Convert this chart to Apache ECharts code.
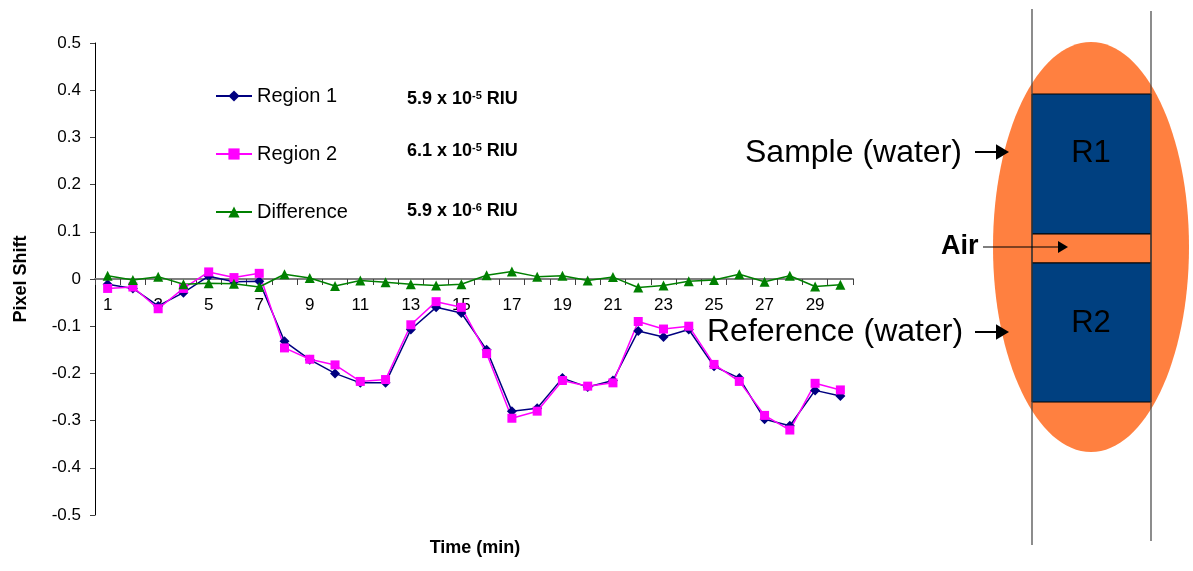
<html lang="en">

<head>
    <meta charset="UTF-8">
    <title>Pixel Shift</title>
    <script src="https://cdn.jsdelivr.net/npm/echarts@6.0.0/dist/echarts.min.js"></script>
    <style>
        html, body { margin: 0; padding: 0; background: #fff; }
    </style>
</head>

<body>
    <div id="main" style="width: 1193px;height:571px;"></div>
    <script type="text/javascript">
        // time in minutes
        var minutes = [1, 2, 3, 4, 5, 6, 7, 8, 9, 10, 11, 12, 13, 14, 15,
            16, 17, 18, 19, 20, 21, 22, 23, 24, 25, 26, 27, 28, 29, 30];
        var region1 = [-0.011, -0.02, -0.057, -0.029, 0.006, -0.006, -0.005, -0.132, -0.171, -0.2,
            -0.22, -0.22, -0.107, -0.06, -0.072, -0.15, -0.28, -0.274, -0.21, -0.229,
            -0.215, -0.11, -0.123, -0.107, -0.185, -0.21, -0.297, -0.311, -0.236, -0.248];
        var region2 = [-0.02, -0.017, -0.063, -0.02, 0.015, 0.003, 0.012, -0.146, -0.17, -0.182,
            -0.217, -0.213, -0.097, -0.048, -0.06, -0.158, -0.295, -0.28, -0.215, -0.227,
            -0.22, -0.09, -0.106, -0.1, -0.181, -0.217, -0.289, -0.32, -0.221, -0.235];
        var difference = [0.007, -0.002, 0.005, -0.011, -0.009, -0.01, -0.017, 0.01, 0.002, -0.015,
            -0.003, -0.007, -0.011, -0.014, -0.011, 0.008, 0.016, 0.005, 0.007, -0.003,
            0.004, -0.018, -0.014, -0.005, -0.002, 0.01, -0.006, 0.007, -0.016, -0.012];
        var seriesNames = ['Region 1', 'Region 2', 'Difference'];
        // resolution next to each legend entry: [mantissa, exponent]
        var riuLabels = [['5.9', '-5'], ['6.1', '-5'], ['5.9', '-6']];

        var font = "'Liberation Sans', Arial, sans-serif";
        var gridTop = 43, gridBottom = 56, chartHeight = 571;

        function riuText(lab, x, y) {
            return {
                type: 'text',
                left: x,
                top: y,
                style: {
                    text: lab[0] + ' x 10{sup|' + lab[1] + '} RIU',
                    font: 'bold 18px ' + font,
                    fill: '#000',
                    rich: {
                        sup: { fontSize: 11, fontWeight: 'bold', fontFamily: font, verticalAlign: 'top', padding: [0, 0, 7, 0] }
                    }
                }
            };
        }

        function arrow(x1, x2, y, w, head) {
            return [{
                type: 'line',
                shape: { x1: x1, y1: y, x2: x2 - head, y2: y },
                style: { stroke: '#000', lineWidth: w }
            }, {
                type: 'polygon',
                shape: { points: [[x2 - head, y - head * 0.6], [x2, y], [x2 - head, y + head * 0.6]] },
                style: { fill: '#000' }
            }];
        }

        var chart = echarts.init(document.getElementById('main'));
        var graphics = [
            // sample cell diagram
            { type: 'ellipse', shape: { cx: 1091, cy: 247, rx: 98, ry: 205 }, style: { fill: '#FF8040' } },
            { type: 'rect', shape: { x: 1032, y: 94, width: 119, height: 140 }, style: { fill: '#004080', stroke: '#000', lineWidth: 1 } },
            { type: 'rect', shape: { x: 1032, y: 234, width: 119, height: 29 }, style: { fill: '#FF8040', stroke: '#000', lineWidth: 1 } },
            { type: 'rect', shape: { x: 1032, y: 263, width: 119, height: 139 }, style: { fill: '#004080', stroke: '#000', lineWidth: 1 } },
            { type: 'line', shape: { x1: 1032, y1: 9, x2: 1032, y2: 545 }, style: { stroke: '#404040', lineWidth: 1.2 } },
            { type: 'line', shape: { x1: 1151, y1: 11, x2: 1151, y2: 541 }, style: { stroke: '#404040', lineWidth: 1.2 } },
            { type: 'text', x: 1091, y: 153, style: { text: 'R1', font: '31px ' + font, fill: '#000', align: 'center', verticalAlign: 'middle' } },
            { type: 'text', x: 1091, y: 323, style: { text: 'R2', font: '31px ' + font, fill: '#000', align: 'center', verticalAlign: 'middle' } },
            { type: 'text', x: 745, y: 153, style: { text: 'Sample (water)', font: '32px ' + font, fill: '#000', verticalAlign: 'middle' } },
            { type: 'text', x: 707, y: 332, style: { text: 'Reference (water)', font: '32px ' + font, fill: '#000', verticalAlign: 'middle' } },
            { type: 'text', x: 941, y: 247, style: { text: 'Air', font: 'bold 27px ' + font, fill: '#000', verticalAlign: 'middle' } },
            // axis title below the plot
            { type: 'text', x: 475, y: 548, style: { text: 'Time (min)', font: 'bold 18px ' + font, fill: '#000', align: 'center', verticalAlign: 'middle' } },
            riuText(riuLabels[0], 407, 90),
            riuText(riuLabels[1], 407, 142),
            riuText(riuLabels[2], 407, 202)
        ];
        graphics = graphics.concat(arrow(975, 1009, 152, 2, 13), arrow(975, 1009, 332, 2, 13), arrow(983, 1068, 247, 1.2, 10));

        option = {
            animation: false,
            grid: { left: 95, right: 340, top: gridTop, bottom: gridBottom },
            legend: {
                data: seriesNames,
                orient: 'vertical',
                left: 210,
                top: 81,
                itemWidth: 36,
                itemHeight: 14,
                itemGap: 38,
                textStyle: { fontSize: 20, fontFamily: font, color: '#000' }
            },
            xAxis: {
                type: 'category',
                data: minutes,
                boundaryGap: true,
                position: 'bottom',
                // category axis sits at y = 0, in the middle of the value range
                offset: -(chartHeight - gridTop - gridBottom) / 2,
                axisLine: { onZero: false, lineStyle: { color: '#808080', width: 2 } },
                axisTick: { show: true, interval: 0, length: 6, lineStyle: { color: '#404040' } },
                axisLabel: { interval: 1, color: '#000', fontSize: 17, fontFamily: font, margin: 18 },
                splitLine: { show: false }
            },
            yAxis: {
                type: 'value',
                min: -0.5,
                max: 0.5,
                interval: 0.1,
                name: 'Pixel Shift',
                nameLocation: 'middle',
                nameGap: 65,
                nameTextStyle: { color: '#000', fontSize: 18, fontWeight: 'bold', fontFamily: font },
                axisLine: { show: true, lineStyle: { color: '#000', width: 1 } },
                axisTick: { show: true, length: 5, lineStyle: { color: '#404040' } },
                axisLabel: {
                    color: '#000', fontSize: 17, fontFamily: font, margin: 14,
                    formatter: function (v) { return Math.round(v * 10) / 10 + ''; }
                },
                splitLine: { show: false }
            },
            series: [{
                name: seriesNames[0],
                type: 'line',
                data: region1,
                symbol: 'diamond',
                symbolSize: 10,
                itemStyle: { color: '#000080' },
                lineStyle: { color: '#000080', width: 1.5 }
            }, {
                name: seriesNames[1],
                type: 'line',
                data: region2,
                symbol: 'rect',
                symbolSize: 9,
                itemStyle: { color: '#FF00FF' },
                lineStyle: { color: '#FF00FF', width: 1.5 }
            }, {
                name: seriesNames[2],
                type: 'line',
                data: difference,
                symbol: 'triangle',
                symbolSize: 10,
                itemStyle: { color: '#008000' },
                lineStyle: { color: '#008000', width: 1.5 }
            }],
            graphic: graphics
        };

        chart.setOption(option);
    </script>
</body>

</html>
